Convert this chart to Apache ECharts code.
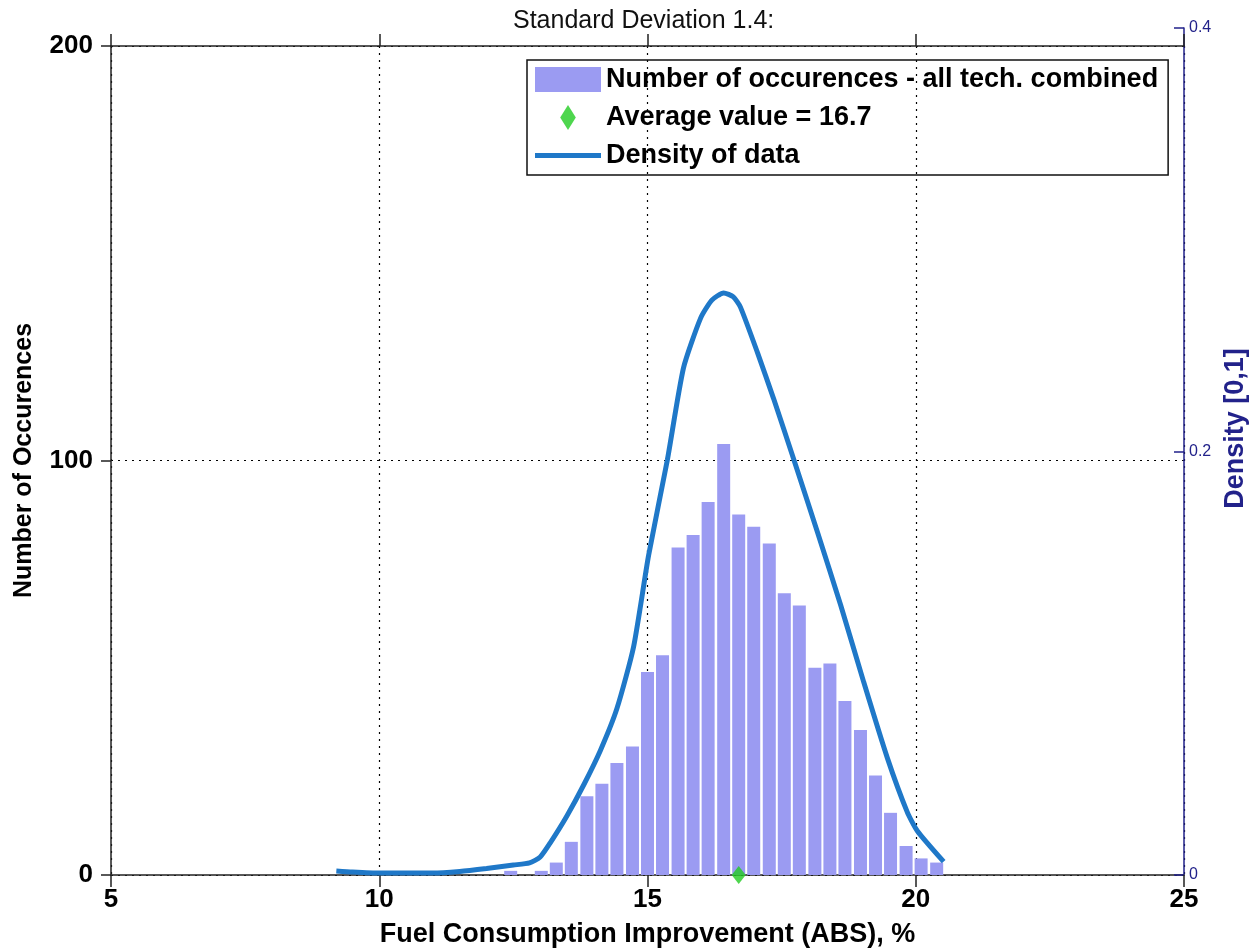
<!DOCTYPE html>
<html>
<head>
<meta charset="utf-8">
<title>Standard Deviation 1.4</title>
<script src="https://cdn.jsdelivr.net/npm/echarts@6/dist/echarts.min.js"></script>
<style>
    html, body { margin: 0; padding: 0; background: #fff; }
    #chart-box { width: 1249px; height: 952px; }
</style>
</head>
<body>
<div id="chart-box"></div>
<script>
// histogram bin centres (%) and counts
var binCenters = [12.45, 12.73, 13.02, 13.30, 13.58, 13.87, 14.15, 14.43, 14.72, 15.00,
    15.28, 15.57, 15.85, 16.13, 16.42, 16.70, 16.98, 17.27, 17.55, 17.83,
    18.12, 18.40, 18.68, 18.97, 19.25, 19.53, 19.82, 20.10, 20.39];
var binCounts = [1, 0, 1, 3, 8, 19, 22, 27, 31, 49,
    53, 79, 82, 90, 104, 87, 84, 80, 68, 65,
    50, 51, 42, 35, 24, 15, 7, 4, 3];

// density curve
var densityX = [9.2, 9.5, 10.0, 10.5, 11.0, 11.5, 12.0, 12.5, 12.8, 13.0, 13.19, 13.5, 13.81, 14.12,
    14.43, 14.74, 15.02, 15.37, 15.67, 15.99, 16.2, 16.42, 16.6, 16.73, 17.05, 17.35, 17.73,
    18.17, 18.6, 19.03, 19.47, 19.84, 20.03, 20.52];
var densityY = [0.0019, 0.0014, 0.0009, 0.0009, 0.0009, 0.0017, 0.0031, 0.0047, 0.0057, 0.0085,
    0.0153, 0.028, 0.0425, 0.0587, 0.0786, 0.1077, 0.1509, 0.196, 0.2394, 0.263, 0.2715, 0.2749,
    0.273, 0.2683, 0.2467, 0.225, 0.196, 0.1617, 0.1275, 0.0911, 0.0553, 0.0298, 0.0208, 0.0063];

var averageValue = 16.7;
var xTicks = [5, 10, 15, 20, 25];

var barName = 'Number of occurences - all tech. combined';
var avgName = 'Average value = 16.7';
var lineName = 'Density of data';

var barData = binCenters.map(function (c, i) { return [c, binCounts[i]]; });
var lineData = densityX.map(function (x, i) { return [x, densityY[i]]; });

var boldFont = 'Liberation Sans';
var navy = '#22228a';

var option = {
    animation: false,
    title: {
        text: 'Standard Deviation 1.4:',
        left: 508,
        top: 4,
        textStyle: { fontFamily: boldFont, fontWeight: 'normal', fontSize: 25, color: '#111' }
    },
    legend: {
        orient: 'vertical',
        left: 527,
        top: 60,
        padding: [6, 10, 6, 8],
        itemGap: 11,
        itemWidth: 66,
        itemHeight: 25,
        borderColor: '#111',
        borderWidth: 1.5,
        textStyle: { fontFamily: boldFont, fontWeight: 'bold', fontSize: 27, color: '#000' },
        data: [
            { name: barName, icon: 'rect' },
            { name: avgName, icon: 'path://M5,0 L10,8 L5,16 L0,8 Z' },
            { name: lineName, icon: 'path://M0,0 H64 V5 H0 Z' }
        ]
    },
    grid: [
        { left: 111, right: 65, top: 46, bottom: 77, outerBoundsMode: 'none' },
        { left: 111, right: 65, top: 28, bottom: 77, outerBoundsMode: 'none' }
    ],
    xAxis: [{
        gridIndex: 0,
        type: 'value',
        position: 'bottom',
        min: 5,
        max: 25,
        interval: 5,
        name: 'Fuel Consumption Improvement (ABS), %',
        nameLocation: 'middle',
        nameGap: 46,
        nameTextStyle: { fontFamily: boldFont, fontWeight: 'bold', fontSize: 27, color: '#000' },
        axisLine: { lineStyle: { color: '#222', width: 1.5 } },
        axisTick: { length: 12, lineStyle: { color: '#222', width: 1.5 } },
        axisLabel: {
            margin: 12,
            fontFamily: boldFont, fontWeight: 'bold', fontSize: 26, color: '#000',
            customValues: xTicks
        },
        splitLine: { show: true, lineStyle: { color: '#000', type: [2, 5], width: 1.2 } }
    }, {
        gridIndex: 0,
        type: 'value',
        position: 'top',
        min: 5,
        max: 25,
        interval: 5,
        axisLine: { lineStyle: { color: '#222', width: 1.5 } },
        axisTick: { length: 12, lineStyle: { color: '#222', width: 1.5 } },
        axisLabel: { show: false },
        splitLine: { show: false }
    }, {
        gridIndex: 1,
        type: 'value',
        min: 5,
        max: 25,
        show: false
    }],
    yAxis: [{
        gridIndex: 0,
        type: 'value',
        position: 'left',
        min: 0,
        max: 200,
        interval: 100,
        name: 'Number of Occurences',
        nameLocation: 'middle',
        nameGap: 74,
        nameTextStyle: { fontFamily: boldFont, fontWeight: 'bold', fontSize: 25, color: '#000' },
        axisLine: { show: true, lineStyle: { color: '#222', width: 1.5 } },
        axisTick: { show: true, length: 10, lineStyle: { color: '#222', width: 1.5 } },
        axisLabel: { margin: 18, fontFamily: boldFont, fontWeight: 'bold', fontSize: 26, color: '#000' },
        splitLine: { show: true, lineStyle: { color: '#000', type: [2, 5], width: 1.2 } }
    }, {
        gridIndex: 1,
        type: 'value',
        position: 'right',
        min: 0,
        max: 0.4,
        interval: 0.2,
        name: 'Density [0,1]',
        nameLocation: 'middle',
        nameGap: 37,
        nameTextStyle: {
            fontFamily: boldFont, fontWeight: 'bold', fontSize: 27, color: navy,
            padding: [0, 0, 0, 46]
        },
        axisLine: { show: true, lineStyle: { color: navy, width: 1.5 } },
        axisTick: { show: true, inside: true, length: 10, lineStyle: { color: navy, width: 1.5 } },
        axisLabel: { margin: 5, fontFamily: boldFont, fontSize: 16, color: navy },
        splitLine: { show: false }
    }],
    series: [{
        name: barName,
        type: 'bar',
        xAxisIndex: 0,
        yAxisIndex: 0,
        barWidth: 13,
        itemStyle: { color: '#9b9bf2' },
        data: barData
    }, {
        name: lineName,
        type: 'line',
        xAxisIndex: 2,
        yAxisIndex: 1,
        smooth: 0.2,
        symbol: 'none',
        lineStyle: { color: '#1f78c8', width: 5 },
        itemStyle: { color: '#1f78c8' },
        data: lineData
    }, {
        name: avgName,
        type: 'scatter',
        xAxisIndex: 0,
        yAxisIndex: 0,
        symbol: 'diamond',
        symbolSize: [14, 18],
        clip: false,
        z: 5,
        itemStyle: { color: '#22cc22' },
        data: [[averageValue, 0]]
    }]
};

var myChart = echarts.init(document.getElementById('chart-box'));
myChart.setOption(option);
</script>
</body>
</html>
